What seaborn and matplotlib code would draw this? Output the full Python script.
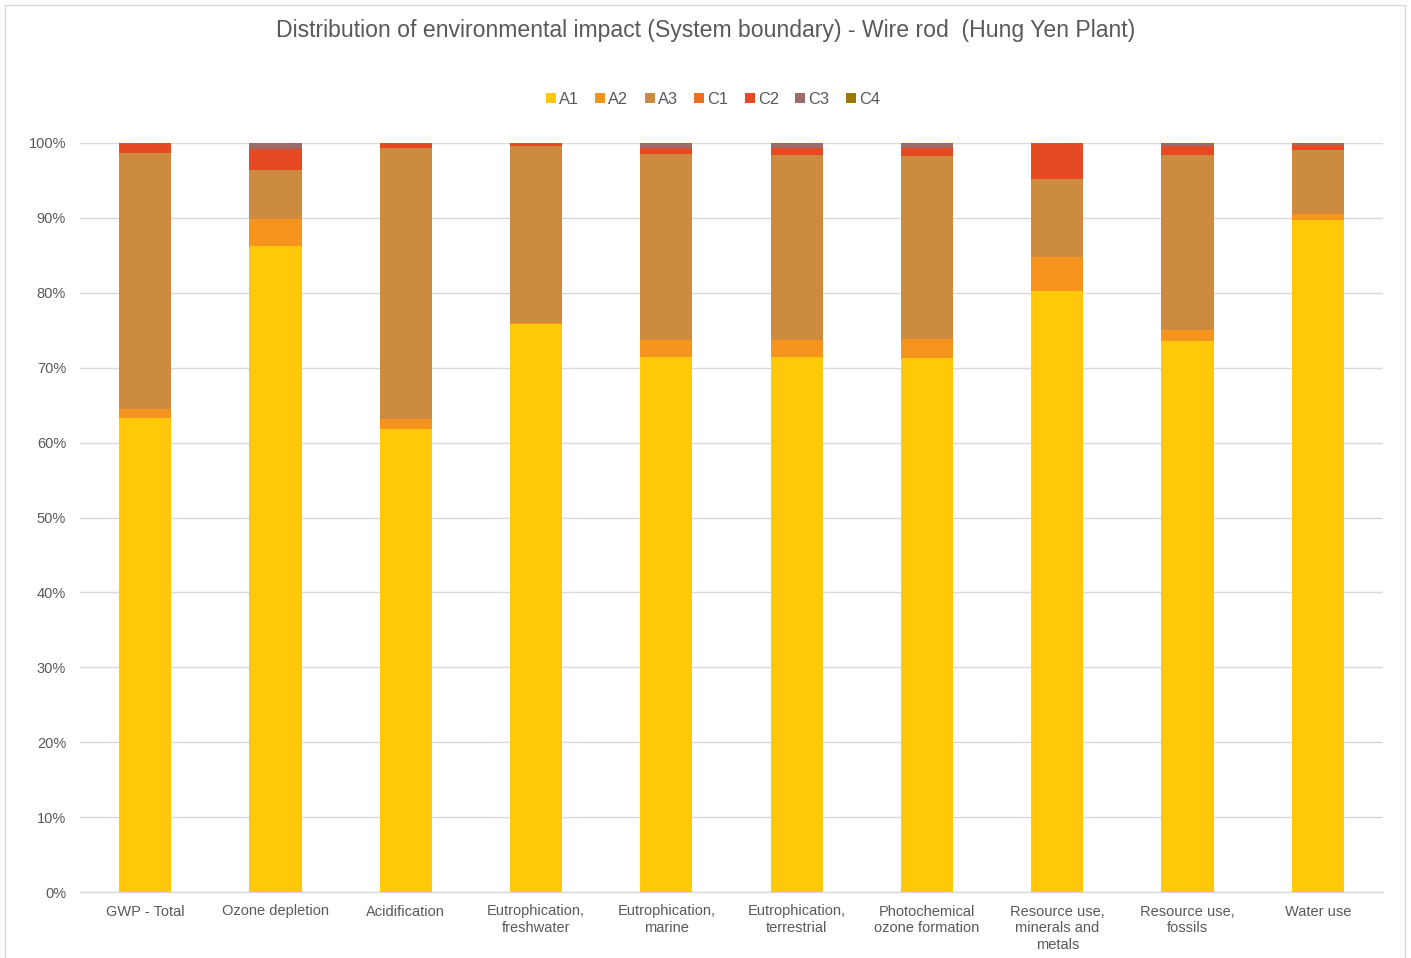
import matplotlib
matplotlib.use("Agg")
import matplotlib.pyplot as plt
import seaborn as sns
import numpy as np
import pandas as pd
from matplotlib.patches import Rectangle, Patch
from matplotlib.ticker import FuncFormatter

categories = ["GWP - Total", "Ozone depletion", "Acidification", "Eutrophication,\nfreshwater",
              "Eutrophication,\nmarine", "Eutrophication,\nterrestrial", "Photochemical\nozone formation",
              "Resource use,\nminerals and\nmetals", "Resource use,\nfossils", "Water use"]
series_names = ["A1", "A2", "A3", "C1", "C2", "C3", "C4"]
A1 = [63.3, 86.3, 61.8, 75.9, 71.4, 71.4, 71.3, 80.3, 73.5, 89.7]
A2 = [1.2, 3.6, 1.4, 0.1, 2.3, 2.3, 2.5, 4.5, 1.5, 0.8]
A3 = [34.2, 6.6, 36.1, 23.6, 24.8, 24.7, 24.4, 10.4, 23.4, 8.5]
C1 = [0.0, 0.0, 0.0, 0.0, 0.0, 0.0, 0.0, 0.0, 0.0, 0.0]
C2 = [1.1, 2.7, 0.5, 0.3, 0.8, 0.9, 1.1, 4.6, 1.2, 0.7]
C3 = [0.1, 0.8, 0.1, 0.0, 0.6, 0.6, 0.6, 0.1, 0.3, 0.2]
C4 = [0.1, 0.05, 0.1, 0.1, 0.1, 0.1, 0.1, 0.1, 0.1, 0.1]
colors = ["#FFC90A", "#F7941D", "#CD8B3F", "#ED7020", "#E64A23", "#9E6B6B", "#9C7A00"]

data = np.array([A1, A2, A3, C1, C2, C3, C4])
data = data / data.sum(axis=0) * 100.0
cum = np.cumsum(data, axis=0)

sns.set_theme(style="white")
plt.rcParams['font.family'] = ['Liberation Sans', 'DejaVu Sans']

fig = plt.figure(figsize=(14.11, 9.58), dpi=100)
ax = fig.add_axes([80/1411, 1-892/958, (1383-80)/1411, (892-143)/958])

for i in range(len(series_names)-1, -1, -1):
    df = pd.DataFrame({"cat": categories, "val": cum[i]})
    sns.barplot(data=df, x="cat", y="val", color=colors[i], width=0.4, ax=ax,
                saturation=1, linewidth=0, zorder=3)

ax.set_ylim(0, 100)
ax.set_xlim(-0.5, 9.5)
ax.set_yticks(np.arange(0, 101, 10))
ax.yaxis.set_major_formatter(FuncFormatter(lambda v, p: f"{int(round(v))}%"))
ax.grid(axis="y", color="#D9D9D9", linewidth=1, zorder=0)
ax.set_axisbelow(True)
for s in ["top", "right", "left"]:
    ax.spines[s].set_visible(False)
ax.spines["bottom"].set_color("#D9D9D9")
ax.spines["bottom"].set_linewidth(1)
ax.set_xlabel("")
ax.set_ylabel("")
ax.tick_params(axis="both", length=0, colors="#595959", labelsize=10.5)
ax.tick_params(axis="x", pad=9)
ax.tick_params(axis="y", pad=10)
for t in ax.get_xticklabels():
    t.set_linespacing(1.25)

handles = [Patch(facecolor=c, edgecolor="none") for c in colors]
fig.legend(handles, series_names, loc="center", bbox_to_anchor=(713/1411, 1-99/958), ncol=7,
           frameon=False, handlelength=0.6, handleheight=0.6, handletextpad=0.2, columnspacing=1.0,
           fontsize=11.8, labelcolor="#595959")

fig.text(706/1411, 1-31/958, "Distribution of environmental impact (System boundary) - Wire rod  (Hung Yen Plant)",
         ha="center", va="center", fontsize=16.6, color="#595959")

fig.patches.append(Rectangle((5/1411, -0.01), 1400/1411, 1.01-5/958, transform=fig.transFigure,
                             fill=False, edgecolor="#D9D9D9", linewidth=1))

fig.savefig("out.png", dpi=100)
